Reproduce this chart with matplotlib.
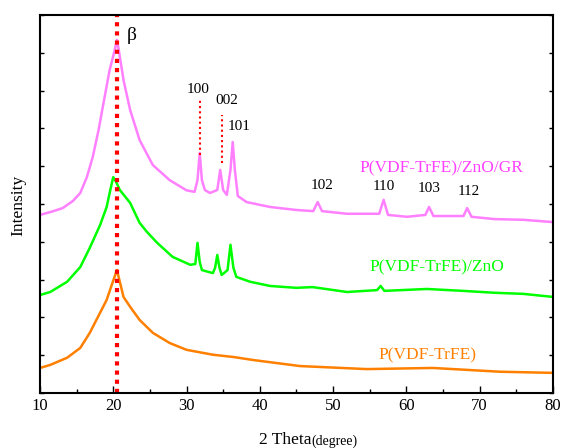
import numpy as np
import matplotlib
matplotlib.use('Agg')
import matplotlib.pyplot as plt
from matplotlib.ticker import MultipleLocator

plt.rcParams['font.family'] = ['Liberation Serif', 'DejaVu Serif']

# XRD traces (2 theta, stacked intensity)
gr_x = [10.0, 11.5, 13.1, 14.5, 15.5, 16.4, 17.2, 18.0, 18.5, 19.5, 20.2, 20.5, 20.8,
        21.4, 22.3, 23.6, 25.4, 27.7, 30.0, 31.1, 31.5, 31.8, 32.1, 32.5, 33.2, 34.2,
        34.6, 35.0, 35.5, 36.0, 36.3, 36.6, 37.0, 38.2, 41.4, 45.0, 47.3, 47.9, 48.5,
        51.9, 56.3, 56.9, 57.5, 60.1, 62.6, 63.1, 63.7, 67.8, 68.3, 68.9, 72.0, 76.0, 80.0]
gr_y = [4.71, 4.79, 4.89, 5.08, 5.29, 5.71, 6.24, 6.96, 7.49, 8.54, 9.07, 9.34, 9.02,
        8.28, 7.49, 6.69, 6.03, 5.63, 5.36, 5.32, 5.63, 6.35, 5.63, 5.37, 5.29, 5.37,
        5.90, 5.37, 5.24, 5.90, 6.64, 5.90, 5.21, 5.05, 4.92, 4.84, 4.81, 5.05, 4.81,
        4.74, 4.74, 5.11, 4.71, 4.66, 4.71, 4.92, 4.68, 4.68, 4.89, 4.66, 4.60, 4.58, 4.52]

zno_x = [10.0, 11.4, 13.7, 15.5, 16.8, 18.2, 19.1, 19.6, 20.0, 20.4, 20.9, 22.3, 23.6,
         24.6, 26.0, 28.1, 30.5, 31.2, 31.5, 31.8, 32.1, 33.6, 33.9, 34.2, 34.5, 34.8,
         35.6, 36.0, 36.4, 36.8, 38.7, 41.4, 45.0, 47.2, 51.9, 56.0, 56.5, 57.0, 62.8,
         67.7, 72.0, 76.0, 80.0]
zno_y = [2.59, 2.67, 2.94, 3.33, 3.84, 4.44, 4.92, 5.37, 5.71, 5.58, 5.37, 5.03, 4.50,
         4.26, 3.97, 3.60, 3.39, 3.41, 3.97, 3.47, 3.25, 3.17, 3.31, 3.65, 3.31, 3.12,
         3.25, 3.92, 3.31, 3.07, 2.94, 2.83, 2.78, 2.80, 2.67, 2.72, 2.83, 2.70, 2.75,
         2.70, 2.65, 2.62, 2.54]

pure_x = [10.0, 11.4, 13.7, 15.5, 16.8, 18.2, 19.1, 19.8, 20.5, 21.0, 21.4, 22.3, 23.6,
          25.4, 27.7, 30.0, 33.6, 36.4, 39.1, 45.5, 54.6, 63.6, 72.8, 80.0]
pure_y = [0.66, 0.74, 0.93, 1.19, 1.59, 2.12, 2.46, 2.86, 3.25, 2.86, 2.54, 2.28, 1.93,
          1.59, 1.32, 1.14, 1.01, 0.95, 0.87, 0.71, 0.63, 0.66, 0.56, 0.53]

# peak labels (hkl) and where they sit
hkl = ['100', '002', '101', '102', '110', '103', '112']
hkl_x = [31.6, 35.5, 37.15, 48.5, 56.9, 63.1, 68.5]
hkl_y = [8.02, 7.75, 7.04, 5.48, 5.45, 5.40, 5.32]

beta_x = 20.5
guide_x = [31.9, 34.8]
guide_lo = [6.30, 6.08]
guide_hi = [7.75, 7.35]

pink = '#ff80ff'
green = '#00ff00'
orange = '#ff8000'

fig = plt.figure(figsize=(5.63, 4.48), dpi=100)
ax = fig.add_axes([0.071, 0.123, 0.911, 0.8435])

ax.plot(gr_x, gr_y, color=pink, lw=1.8)
ax.plot(zno_x, zno_y, color=green, lw=1.8)
ax.plot(pure_x, pure_y, color=orange, lw=1.8)

ax.axvline(beta_x, color='red', lw=3, linestyle=(0, (1, 1.2)))
for gx, lo, hi in zip(guide_x, guide_lo, guide_hi):
    ax.plot([gx, gx], [lo, hi], color='red', lw=1.5, linestyle=(0, (1, 1.5)))

ax.text(22.5, 9.47, 'β', fontsize=14, ha='center', va='center')
for t, tx, ty in zip(hkl, hkl_x, hkl_y):
    ax.text(tx, ty, t, fontsize=11, ha='center', va='center')

ax.text(64.85, 5.95, 'P(VDF-TrFE)/ZnO/GR', color='#ff40ff', fontsize=12.5, ha='center', va='center')
ax.text(64.2, 3.31, 'P(VDF-TrFE)/ZnO', color=green, fontsize=12.5, ha='center', va='center')
ax.text(62.9, 0.98, 'P(VDF-TrFE)', color=orange, fontsize=12.5, ha='center', va='center')

ax.set_xlim(10, 80)
ax.set_ylim(0, 10)
ax.xaxis.set_major_locator(MultipleLocator(10))
ax.xaxis.set_minor_locator(MultipleLocator(5))
ax.yaxis.set_major_locator(MultipleLocator(1))
ax.tick_params(axis='x', which='both', direction='in', top=False, labelsize=12)
ax.tick_params(axis='x', which='major', length=5, width=1)
ax.tick_params(axis='x', which='minor', length=3, width=1)
ax.tick_params(axis='y', which='both', direction='in', left=True, right=True,
               labelleft=False, length=3, width=1)
for s in ax.spines.values():
    s.set_linewidth(1.5)

ax.text(0.530, -0.125, '2 Theta', transform=ax.transAxes, fontsize=12.5, ha='right', va='center')
ax.text(0.530, -0.128, '(degree)', transform=ax.transAxes, fontsize=10, ha='left', va='center')
ax.text(-0.043, 0.497, 'Intensity', transform=ax.transAxes, fontsize=12.5, rotation=90,
        ha='center', va='center')

fig.savefig('out.png', dpi=100)
